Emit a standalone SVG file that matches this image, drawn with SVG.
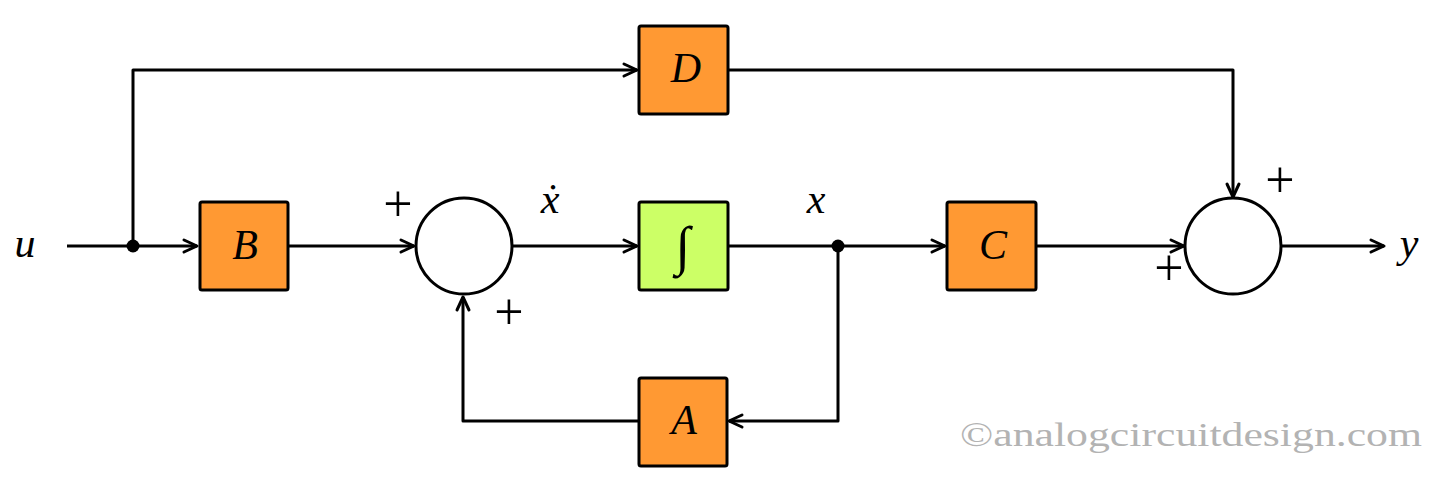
<svg xmlns="http://www.w3.org/2000/svg" width="1453" height="495" viewBox="0 0 1453 495">
<style>
.blk{fill:#FF9933;stroke:#000;stroke-width:3}
.int{fill:#CCFF66;stroke:#000;stroke-width:3}
.sum{fill:#fff;stroke:#000;stroke-width:3}
.w{fill:none;stroke:#000;stroke-width:3;stroke-linejoin:round}
text{font-family:'Liberation Serif','Times New Roman',Tinos,Times,serif}
.lbl{font-style:italic;font-size:42px;fill:#000;text-anchor:middle}
.pl{font-size:52px;fill:#000;text-anchor:middle}
.wm{font-size:34px;fill:#B3B3B3}
</style>
<defs>
<marker id="ar" markerUnits="userSpaceOnUse" markerWidth="18" markerHeight="16" refX="15" refY="8" orient="auto">
<path d="M2,2 L15,8 L2,14" fill="none" stroke="#000" stroke-width="3" stroke-linecap="round" stroke-linejoin="round"/>
</marker>
</defs>
<rect width="1453" height="495" fill="#fff"/>
<g id="connectors">
<path class="w" d="M67,246 H197" marker-end="url(#ar)"/>
<path class="w" d="M133,246 V70 H637" marker-end="url(#ar)"/>
<path class="w" d="M288,246 H414" marker-end="url(#ar)"/>
<path class="w" d="M512,246 H637" marker-end="url(#ar)"/>
<path class="w" d="M728,246 H945" marker-end="url(#ar)"/>
<path class="w" d="M838,246 V421 H729" marker-end="url(#ar)"/>
<path class="w" d="M639,421 H463 V297" marker-end="url(#ar)"/>
<path class="w" d="M1036,246 H1184" marker-end="url(#ar)"/>
<path class="w" d="M728,70 H1233 V197" marker-end="url(#ar)"/>
<path class="w" d="M1282,246 H1384" marker-end="url(#ar)"/>
<circle cx="133" cy="246" r="6.5" fill="#000"/>
<circle cx="838" cy="246" r="6.5" fill="#000"/>
</g>
<g id="node-B"><rect class="blk" x="200" y="202" width="88" height="88" rx="2"/><text class="lbl" x="245" y="259">B</text></g>
<g id="node-D"><rect class="blk" x="639" y="26" width="89" height="88" rx="2"/><text class="lbl" x="686" y="82">D</text></g>
<g id="node-int"><rect class="int" x="639" y="202" width="89" height="88" rx="2"/><text class="lbl" x="683" y="264" style="font-size:54px">∫</text></g>
<g id="node-C"><rect class="blk" x="947" y="202" width="89" height="88" rx="2"/><text class="lbl" x="993" y="259">C</text></g>
<g id="node-A"><rect class="blk" x="639" y="378" width="88" height="88" rx="2"/><text class="lbl" x="684" y="434">A</text></g>
<g id="node-sum1"><circle class="sum" cx="464" cy="246" r="48"/></g>
<g id="node-sum2"><circle class="sum" cx="1233" cy="246" r="48"/></g>
<g id="labels">
<text class="lbl" x="25" y="257">u</text>
<text class="lbl" x="1409" y="257">y</text>
<text class="lbl" x="550" y="213">ẋ</text>
<text class="lbl" x="816" y="213">x</text>
<text class="pl" x="398" y="221">+</text>
<text class="pl" x="509" y="329">+</text>
<text class="pl" x="1280" y="197">+</text>
<text class="pl" x="1169" y="285">+</text>
<text class="wm" x="960" y="446" textLength="462" lengthAdjust="spacingAndGlyphs">©analogcircuitdesign.com</text>
</g>
</svg>
